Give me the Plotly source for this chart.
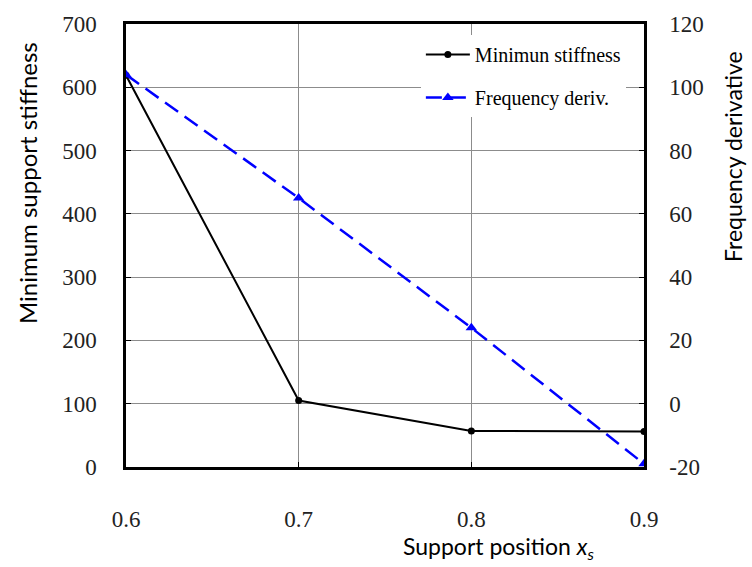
import plotly.graph_objects as go

# Support positions along the span
positions = [0.6, 0.7, 0.8, 0.9]
# Minimum support stiffness (left axis)
min_stiffness = [619, 105, 57, 56]
# Frequency derivative (right axis)
freq_deriv = [104, 65, 24, -19]

left_ticks = [0, 100, 200, 300, 400, 500, 600, 700]
right_ticks = [-20, 0, 20, 40, 60, 80, 100, 120]
x_ticks = [0.6, 0.7, 0.8, 0.9]

serif = "Times New Roman, Liberation Serif, serif"
sans = "Lato"

fig = go.Figure()
fig.add_trace(go.Scatter(
    x=positions, y=min_stiffness, name="Minimun stiffness",
    mode="lines+markers", legendgroup="a",
    line=dict(color="black", width=2),
    marker=dict(symbol="circle", size=7, color="black"),
))
fig.add_trace(go.Scatter(
    x=positions, y=freq_deriv, name="Frequency deriv.",
    mode="lines+markers", yaxis="y2", legendgroup="b",
    line=dict(color="#0000FF", width=2.5, dash="16px,8px"),
    marker=dict(symbol="triangle-up", size=10, color="#0000FF"),
))

axis_common = dict(
    showline=True, linecolor="black", linewidth=2.5,
    ticks="inside", ticklen=5, tickcolor="black", tickwidth=1,
    tickfont=dict(family=serif, size=23, color="#222"),
    zeroline=False,
)

fig.update_layout(
    width=752, height=567,
    margin=dict(l=126, r=108, t=19, b=100),
    paper_bgcolor="white", plot_bgcolor="white",
    showlegend=True,
    legend=dict(
        x=0.965, y=0.975, xanchor="right", yanchor="top",
        bgcolor="white", borderwidth=0,
        font=dict(family=serif, size=20, color="black"),
        tracegroupgap=14, itemwidth=44,
    ),
    xaxis=dict(
        range=[0.6, 0.9], tickvals=x_ticks,
        ticktext=[f"{v:.1f}" for v in x_ticks],
        showgrid=True, gridcolor="#8c8c8c", gridwidth=1,
        mirror=True, ticklabelstandoff=30,
        **axis_common,
    ),
    yaxis=dict(
        range=[0, 700], tickvals=left_ticks,
        ticktext=[str(v) for v in left_ticks],
        showgrid=True, gridcolor="#8c8c8c", gridwidth=1,
        mirror=True, ticklabelstandoff=22,
        **axis_common,
    ),
    yaxis2=dict(
        range=[-20, 120], tickvals=right_ticks,
        ticktext=[str(v) for v in right_ticks],
        overlaying="y", side="right", showgrid=False,
        ticklabelstandoff=18,
        **axis_common,
    ),
    annotations=[
        dict(text="Minimum support stiffness", xref="paper", yref="paper",
             x=-0.19, y=0.64, xanchor="center", yanchor="middle",
             textangle=-90, showarrow=False,
             font=dict(family=sans, size=24, color="black")),
        dict(text="Frequency derivative", xref="paper", yref="paper",
             x=1.172, y=0.70, xanchor="center", yanchor="middle",
             textangle=-90, showarrow=False,
             font=dict(family=sans, size=23, color="black")),
        dict(text="Support position <i>x</i><sub><i>s</i></sub>",
             xref="paper", yref="paper", x=0.72, y=-0.181,
             xanchor="center", yanchor="middle",
             showarrow=False,
             font=dict(family=sans, size=23, color="black")),
    ],
)

fig.write_html("out.html")
